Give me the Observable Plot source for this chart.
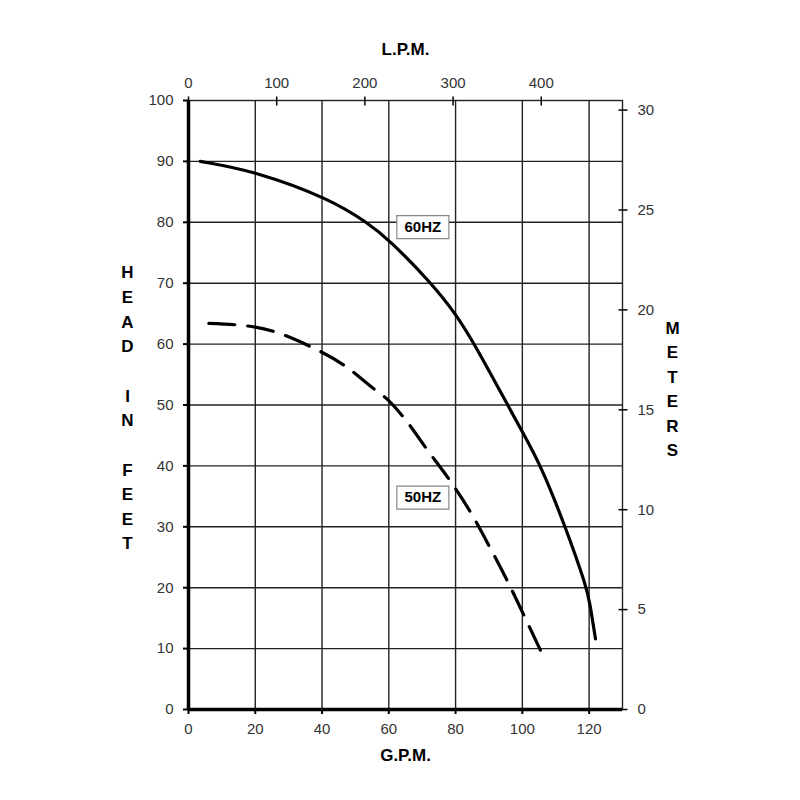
<!DOCTYPE html>
<html>
<head>
<meta charset="utf-8">
<script src="https://cdn.jsdelivr.net/npm/d3@7"></script>
<script src="https://cdn.jsdelivr.net/npm/@observablehq/plot@0.6"></script>
<style>
  html, body { margin: 0; padding: 0; background: #fff; }
</style>
</head>
<body>
<div id="chart"></div>
<script>
// 60 Hz pump curve (GPM, head in feet)
const gpm60  = [3.5, 20, 42.5, 53.4, 60, 72.8, 80, 85.7, 95.6, 100, 105.6, 112.9, 119.3, 120.2, 121.9];
const head60 = [90, 88.4, 83.8, 80, 77.2, 70, 65, 60, 50, 45.6, 40, 30, 20, 17.5, 11.6];
// 50 Hz pump curve
const gpm50  = [6.1, 20, 36.5, 46.4, 55.9, 59.4, 64.4, 71.3, 78.3, 84.8, 90.3, 95.7, 100.7, 105.7];
const head50 = [63.4, 62.8, 59.6, 56.6, 52.5, 51.0, 48.0, 42.8, 37.6, 32.1, 26.6, 20.9, 15.2, 9.4];

const gpmTicks = [0, 20, 40, 60, 80, 100, 120];
const gpmGrid = [20, 40, 60, 80, 100, 120];
const feetTicks = [0, 10, 20, 30, 40, 50, 60, 70, 80, 90, 100];
const feetGrid = [10, 20, 30, 40, 50, 60, 70, 80, 90];
const lpmTicks = [0, 100, 200, 300, 400];
const meterTicks = [0, 5, 10, 15, 20, 25, 30];

const seriesLabels = ["60HZ", "50HZ"];
const labelGpm = [70.2, 70.2];
const labelHead = [79.2, 34.8];

const LPM_PER_GPM = 3.78541;
const FT_PER_M = 3.28084;

const d60 = gpm60.map((x, i) => ({x, y: head60[i]}));
const d50 = gpm50.map((x, i) => ({x, y: head50[i]}));
const labels = seriesLabels.map((t, i) => ({t, x: labelGpm[i], y: labelHead[i]}));
const lpmPos = lpmTicks.map(l => l / LPM_PER_GPM);
const meterPos = meterTicks.map(m => m * FT_PER_M);

const boxSymbol = {
  draw(context, size) {
    context.rect(-26, -11.5, 52, 23);
  }
};

const font = "'Liberation Sans', Arial, Helvetica, sans-serif";

const chart = Plot.plot({
  width: 800,
  height: 800,
  marginLeft: 188,
  marginRight: 178,
  marginTop: 100,
  marginBottom: 91,
  style: {fontFamily: font, fontSize: "15px", color: "#222", background: "#fff"},
  x: {domain: [0, 130]},
  y: {domain: [0, 100]},
  marks: [
    Plot.ruleX(gpmGrid, {stroke: "#222", strokeWidth: 1.4}),
    Plot.ruleY(feetGrid, {stroke: "#222", strokeWidth: 1.4}),
    Plot.frame({stroke: "#222", strokeWidth: 1.4}),
    Plot.ruleX([0], {stroke: "#000", strokeWidth: 3.5}),
    Plot.ruleY([0], {stroke: "#000", strokeWidth: 3.5}),
    Plot.axisX(gpmTicks, {anchor: "bottom", tickSize: 5, tickPadding: 9, tickFormat: d => d, label: null, fill: "#333", stroke: "#000", strokeWidth: 2}),
    Plot.axisY(feetTicks, {anchor: "left", tickSize: 5, tickPadding: 10, tickFormat: d => d, label: null, fill: "#333", stroke: "#000", strokeWidth: 2}),
    // top L.P.M. axis: labels, and ticks crossing the frame
    Plot.axisX(lpmPos, {anchor: "top", tickSize: 0, tickPadding: 13, tickFormat: d => Math.round(d * LPM_PER_GPM), label: null, fill: "#333"}),
    Plot.axisX(lpmPos, {anchor: "top", tickSize: 9, dy: 4.5, tickFormat: () => "", label: null, stroke: "#000", strokeWidth: 1.5}),
    // right meters axis: labels, and ticks crossing the frame
    Plot.axisY(meterPos, {anchor: "right", tickSize: 0, tickPadding: 15, tickFormat: d => Math.round(d / FT_PER_M), label: null, fill: "#333"}),
    Plot.axisY(meterPos, {anchor: "right", tickSize: 9, dx: -4.5, tickFormat: () => "", label: null, stroke: "#000", strokeWidth: 1.5}),
    Plot.line(d60, {x: "x", y: "y", stroke: "#000", strokeWidth: 3.2, curve: "basis"}),
    Plot.line(d50, {x: "x", y: "y", stroke: "#000", strokeWidth: 3.2, strokeDasharray: "26,13", curve: "monotone-x"}),
    Plot.dot(labels, {x: "x", y: "y", symbol: boxSymbol, r: 10, fill: "#fff", stroke: "#888", strokeWidth: 1.2}),
    Plot.text(labels, {x: "x", y: "y", text: "t", fontWeight: "bold", fontSize: 15, fill: "#000"}),
    Plot.text(["L.P.M."], {text: d => d, frameAnchor: "top", dy: -58, fontWeight: "bold", fontSize: 17, fill: "#000"}),
    Plot.text(["G.P.M."], {text: d => d, frameAnchor: "bottom", dy: 51, fontWeight: "bold", fontSize: 17, fill: "#000"}),
    Plot.text(["H\nE\nA\nD\n\nI\nN\n\nF\nE\nE\nT"], {text: d => d, frameAnchor: "left", dx: -61, dy: 1, lineHeight: 1.45, fontWeight: "bold", fontSize: 17, fill: "#000", textAnchor: "middle"}),
    Plot.text(["M\nE\nT\nE\nR\nS"], {text: d => d, frameAnchor: "right", dx: 50, dy: -18, lineHeight: 1.44, fontWeight: "bold", fontSize: 17, fill: "#000", textAnchor: "middle"})
  ]
});

document.getElementById("chart").appendChild(chart);
</script>
</body>
</html>
